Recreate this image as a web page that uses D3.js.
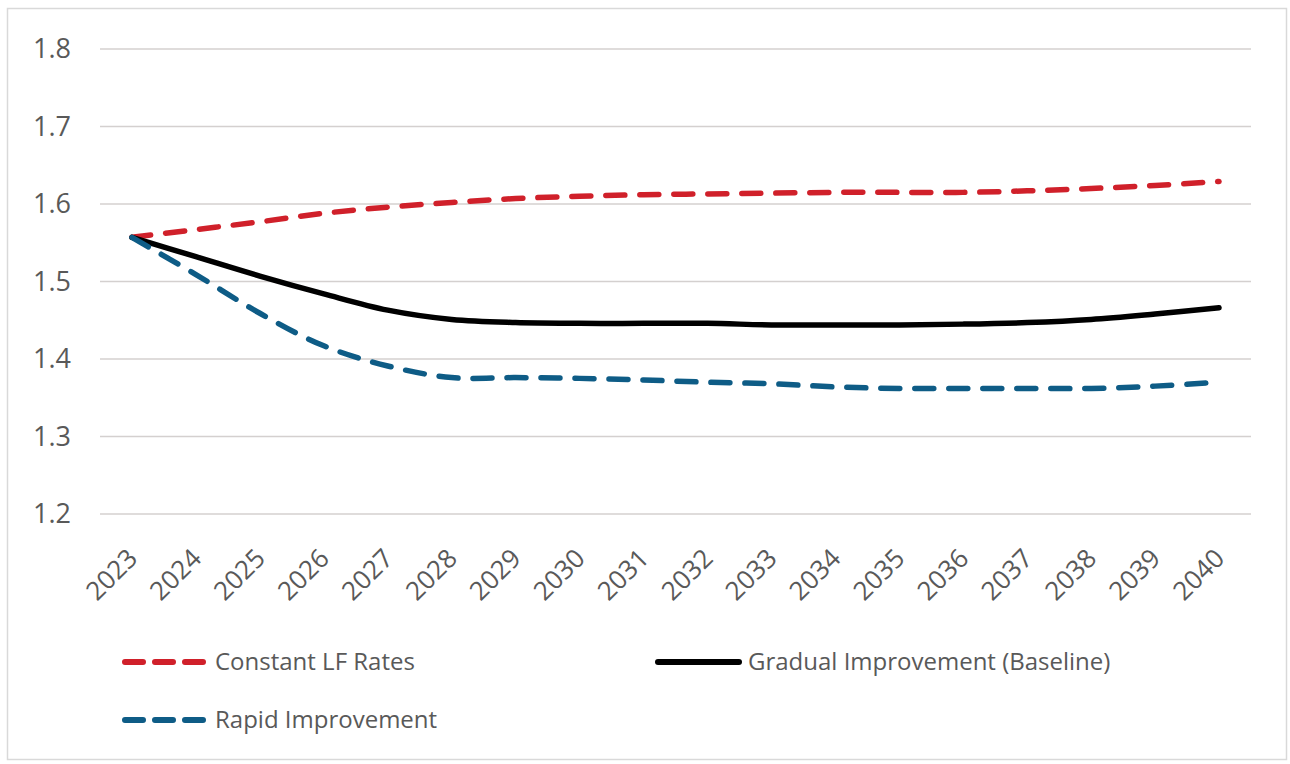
<!DOCTYPE html>
<html>
<head>
<meta charset="utf-8">
<script src="https://cdn.jsdelivr.net/npm/d3@7"></script>
<style>
  html, body { margin: 0; padding: 0; background: #ffffff; }
  svg { display: block; }
  text { font-family: "Open Sans", "Liberation Sans", Arial, sans-serif; fill: #595959; }
</style>
</head>
<body>
<svg id="chart" width="1290" height="764"></svg>
<script>
// Projection years
const years = ["2023","2024","2025","2026","2027","2028","2029","2030","2031",
               "2032","2033","2034","2035","2036","2037","2038","2039","2040"];

// Scenario series
const constantLF = [1.557,1.567,1.577,1.588,1.596,1.602,1.607,1.610,1.612,
                    1.613,1.614,1.615,1.615,1.615,1.617,1.620,1.624,1.629];
const gradual    = [1.557,1.532,1.507,1.484,1.463,1.451,1.447,1.446,1.446,
                    1.446,1.444,1.444,1.444,1.445,1.447,1.451,1.458,1.466];
const rapid      = [1.557,1.509,1.459,1.417,1.391,1.376,1.376,1.375,1.373,
                    1.370,1.368,1.364,1.362,1.362,1.362,1.362,1.365,1.370];

const yTicks = [1.2, 1.3, 1.4, 1.5, 1.6, 1.7, 1.8];

const seriesNames = ["Constant LF Rates", "Gradual Improvement (Baseline)", "Rapid Improvement"];

const series = [
  { name: seriesNames[0], values: constantLF, color: "#d0202a", dash: "19,15" },
  { name: seriesNames[1], values: gradual,    color: "#000000", dash: null },
  { name: seriesNames[2], values: rapid,      color: "#0e5c86", dash: "19,15" }
];

const svg = d3.select("#chart");

// Outer chart frame
svg.append("rect")
  .attr("x", 7.5).attr("y", 8.5)
  .attr("width", 1279).attr("height", 751)
  .attr("fill", "#ffffff")
  .attr("stroke", "#d9d9d9")
  .attr("stroke-width", 1.5);

const plot = { left: 100, right: 1251, top: 49, bottom: 514 };

const x = d3.scaleBand()
  .domain(years)
  .range([plot.left, plot.right]);

const y = d3.scaleLinear()
  .domain([1.2, 1.8])
  .range([plot.bottom, plot.top]);

// Horizontal gridlines
svg.append("g")
  .selectAll("line")
  .data(yTicks)
  .join("line")
  .attr("x1", plot.left).attr("x2", plot.right)
  .attr("y1", d => y(d)).attr("y2", d => y(d))
  .attr("stroke", "#d4d0cf")
  .attr("stroke-width", 1.5);

const fontStack = "\"Open Sans\", \"Liberation Sans\", Arial, sans-serif";

// Y axis labels
const yAxis = d3.axisLeft(y)
  .tickValues(yTicks)
  .tickFormat(d3.format(".1f"))
  .tickSize(0)
  .tickPadding(0);

svg.append("g")
  .attr("transform", `translate(71,0)`)
  .call(yAxis)
  .call(g => g.select(".domain").remove())
  .call(g => g.selectAll("text")
    .attr("font-size", "27px")
    .attr("fill", "#595959")
    .attr("font-family", fontStack));

// X axis labels, rotated
const xAxis = d3.axisBottom(x).tickSize(0).tickPadding(0);
svg.append("g")
  .attr("transform", `translate(0,${plot.bottom})`)
  .call(xAxis)
  .call(g => g.select(".domain").remove())
  .call(g => g.selectAll("text")
    .attr("font-size", "26px")
    .attr("fill", "#595959")
    .attr("font-family", fontStack)
    .attr("text-anchor", "end")
    .attr("dy", null)
    .attr("y", 0)
    .attr("transform", "translate(7,46) rotate(-45)"));

// Smoothed lines
const line = d3.line()
  .x((d, i) => x(years[i]) + x.bandwidth() / 2)
  .y(d => y(d))
  .curve(d3.curveCatmullRom.alpha(0.5));

svg.append("g")
  .selectAll("path")
  .data(series)
  .join("path")
  .attr("d", d => line(d.values))
  .attr("fill", "none")
  .attr("stroke", d => d.color)
  .attr("stroke-width", 5.5)
  .attr("stroke-linecap", "round")
  .attr("stroke-linejoin", "round")
  .attr("stroke-dasharray", d => d.dash);

// Legend
const legendItems = [
  { s: series[0], x: 122, y: 662 },
  { s: series[1], x: 655, y: 662 },
  { s: series[2], x: 122, y: 720 }
];

const lg = svg.append("g")
  .selectAll("g")
  .data(legendItems)
  .join("g")
  .attr("transform", d => `translate(${d.x},${d.y})`);

lg.append("line")
  .attr("x1", 3).attr("x2", 84)
  .attr("y1", 0).attr("y2", 0)
  .attr("stroke", d => d.s.color)
  .attr("stroke-width", 6)
  .attr("stroke-linecap", "round")
  .attr("stroke-dasharray", d => d.s.dash ? "18,12" : null);

lg.append("text")
  .attr("x", 93)
  .attr("y", 0)
  .attr("dy", "0.35em")
  .attr("font-size", "24px")
  .text(d => d.s.name);
</script>
</body>
</html>
